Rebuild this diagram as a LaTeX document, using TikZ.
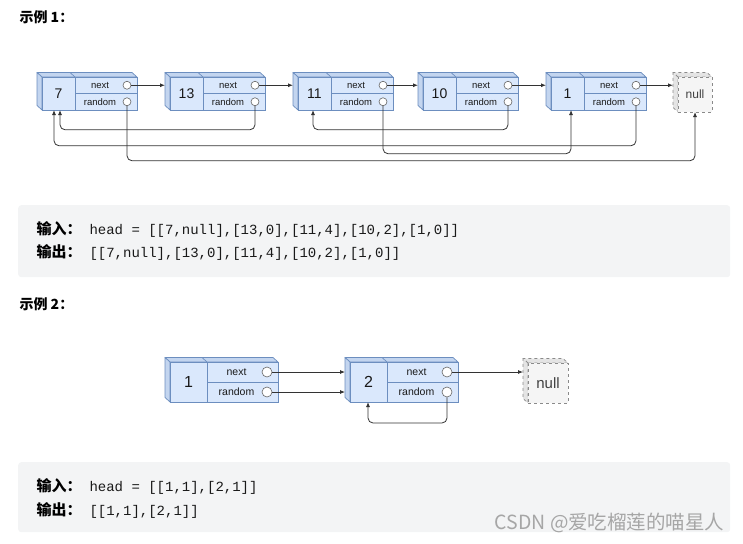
\documentclass[tikz,border=0pt]{standalone}
\usepackage{fontspec}
\setmainfont{Liberation Sans}
\setmonofont{Liberation Mono}
\newfontfamily\cjk{Noto Sans CJK SC}
\usetikzlibrary{calc,arrows.meta}

\definecolor{boxfill}{HTML}{DAE8FC}
\definecolor{boxline}{HTML}{6C8EBF}
\definecolor{boxside}{HTML}{C3D5EF}
\definecolor{nullfill}{HTML}{F5F5F5}
\definecolor{nullsidecol}{HTML}{E4E4E4}
\definecolor{nullline}{HTML}{8A8A8A}
\definecolor{codebg}{HTML}{F3F4F5}
\definecolor{linkcol}{HTML}{333333}

% list cell: name, x, y (front top left), width, height, value width, value
\newcommand{\listnode}[7]{%
  \filldraw[sideface] (#2,#3) -- ++(-\depthx,-\depthy) -- ++(#4,0) -- ++(\depthx,\depthy) -- cycle;
  \filldraw[sideface] (#2,#3) -- ++(-\depthx,-\depthy) -- ++(0,#5) -- ++(\depthx,\depthy) -- cycle;
  \draw[draw=boxline,line width=0.7pt] (#2+#6,#3) -- ++(-\depthx,-\depthy);
  \node[cell,anchor=north west,minimum width=#6pt,minimum height=#5pt,font=\valfont] (#1) at (#2,#3) {#7};
  \node[cell,anchor=north west,minimum width={(#4-#6)*1pt},minimum height={#5*0.5pt},font=\fieldfont] (#1n) at (#1.north east) {next\hspace*{12pt}};
  \node[cell,anchor=north west,minimum width={(#4-#6)*1pt},minimum height={#5*0.5pt},font=\fieldfont] (#1r) at (#1n.south west) {random\hspace*{12pt}};
  \node[port] (#1nc) at ([xshift={-\porto*1pt}]#1n.east) {};
  \node[port] (#1rc) at ([xshift={-\porto*1pt}]#1r.east) {};
  \coordinate (#1s) at ([xshift={-\depthx*1pt}]#1.west);
}
% null cell: name, x, y (front top left), width, height
\newcommand{\nullnode}[5]{%
  \filldraw[nullside] (#2,#3) -- ++(-\depthx,-\depthy) -- ++(#4,0) -- ++(\depthx,\depthy) -- cycle;
  \filldraw[nullside] (#2,#3) -- ++(-\depthx,-\depthy) -- ++(0,#5) -- ++(\depthx,\depthy) -- cycle;
  \node[nullface,anchor=north west,minimum width=#4pt,minimum height=#5pt,font=\nullfont] (#1) at (#2,#3) {null};
  \coordinate (#1s) at ([xshift={-\depthx*1pt}]#1.west);
}

\begin{document}
\begin{tikzpicture}[x=1pt,y=-1pt,>={Latex[length=5pt,width=4pt]},
  cell/.style={draw=boxline,fill=boxfill,line width=0.7pt,inner sep=0pt,outer sep=0pt,text=black!90},
  sideface/.style={draw=boxline,fill=boxside,line width=0.7pt,line join=round},
  nullface/.style={draw=nullline,fill=nullfill,dashed,line width=0.7pt,inner sep=0pt,outer sep=0pt,text=black!75},
  nullside/.style={draw=nullline,fill=nullsidecol,dashed,line width=0.7pt,line join=round},
  port/.style={circle,draw=black!60,fill=white,line width=0.6pt,inner sep=0pt,minimum size={2*\portr*1pt}},
  link/.style={draw=linkcol,line width=0.8pt,->,rounded corners=5pt},
  heading/.style={anchor=base west,font=\cjk\bfseries\fontsize{14}{14}\selectfont},
  codebox/.style={fill=codebg,rounded corners=3pt,inner sep=0pt,anchor=north west},
  label/.style={anchor=base west,font=\cjk\bfseries\fontsize{15}{15}\selectfont},
  code/.style={anchor=base west,font=\ttfamily\fontsize{14}{14}\selectfont,text=black!90}]
  \useasboundingbox (0,0) rectangle (743,543);
  % 3D depth of the cells
  \def\depthx{5}
  \def\depthy{4.5}
  %
  % Example 1
  \node[heading] (ex1) at (16,23) {示例 1：};
  \def\portr{4}
  \def\porto{10}
  \def\valfont{\fontsize{14}{14}\selectfont}
  \def\fieldfont{\fontsize{9.5}{9.5}\selectfont}
  \def\nullfont{\fontsize{12}{12}\selectfont}
  \listnode{n7}{42}{77}{95}{33}{33}{7}
  \listnode{n13}{170}{77}{95}{33}{33}{13}
  \listnode{n11}{298}{77}{95}{33}{33}{11}
  \listnode{n10}{423}{77}{95}{33}{33}{10}
  \listnode{n1}{551}{77}{95}{33}{33}{1}
  \nullnode{nl}{678}{77}{34}{35}
  % next pointers
  \draw[link] (n7nc) -- (n7nc -| n13s);
  \draw[link] (n13nc) -- (n13nc -| n11s);
  \draw[link] (n11nc) -- (n11nc -| n10s);
  \draw[link] (n10nc) -- (n10nc -| n1s);
  \draw[link] (n1nc) -- (n1nc -| nls);
  % random pointers
  \draw[link] (n7rc) -- ++(0,59) -| (nl.south);
  \draw[link] (n13rc) -- ++(0,28) -| ([xshift=18pt]n7.south west);
  \draw[link] (n11rc) -- ++(0,52) -| ([xshift=20pt]n1.south west);
  \draw[link] (n10rc) -- ++(0,28) -| ([xshift=15pt]n11.south west);
  \draw[link] (n1rc) -- ++(0,44) -| ([xshift=12pt]n7.south west);
  %
  \node[codebox,minimum width=712pt,minimum height=72pt] (box1) at (18,205) {};
  \node[label] (in1) at (33,234) {输入：};
  \node[code] (head1) at (86,234) {head = [[7,null],[13,0],[11,4],[10,2],[1,0]]};
  \node[label] (out1) at (33,257) {输出：};
  \node[code] (res1) at (86,257) {[[7,null],[13,0],[11,4],[10,2],[1,0]]};
  %
  % Example 2
  \node[heading] (ex2) at (16,309) {示例 2：};
  \def\portr{5}
  \def\porto{11}
  \def\valfont{\fontsize{16}{16}\selectfont}
  \def\fieldfont{\fontsize{10.5}{10.5}\selectfont}
  \def\nullfont{\fontsize{15}{15}\selectfont}
  \listnode{m1}{170}{362}{108}{40}{37}{1}
  \listnode{m2}{350}{362}{108}{40}{37}{2}
  \nullnode{ml}{528}{363}{40}{40}
  \draw[link] (m1nc) -- (m1nc -| m2s);
  \draw[link] (m1rc) -- (m1rc -| m2s);
  \draw[link] (m2nc) -- (m2nc -| mls);
  \draw[link] (m2rc) -- ++(0,31) -| ([xshift=18pt]m2.south west);
  %
  \node[codebox,minimum width=712pt,minimum height=70pt] (box2) at (18,462) {};
  \node[label] (in2) at (33,491) {输入：};
  \node[code] (head2) at (86,491) {head = [[1,1],[2,1]]};
  \node[label] (out2) at (33,515) {输出：};
  \node[code] (res2) at (86,515) {[[1,1],[2,1]]};
  \node[anchor=base east,text=black!35,font=\cjk\fontsize{19.5}{19.5}\selectfont] (mark) at (728,529) {CSDN @爱吃榴莲的喵星人};
\end{tikzpicture}
\end{document}
